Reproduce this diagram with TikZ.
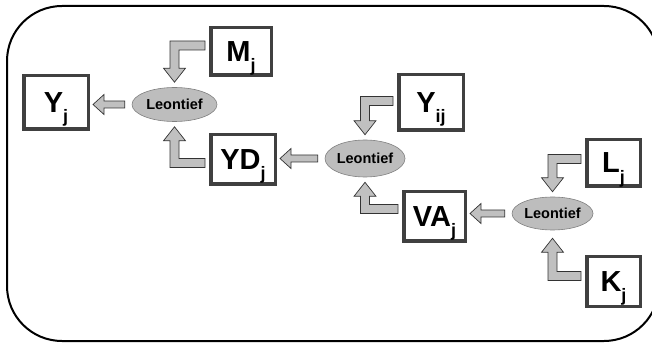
\documentclass[tikz,border=0pt]{standalone}
\usepackage{fontspec}
\setmainfont{Liberation Sans}
\usetikzlibrary{calc,shapes.geometric}

\definecolor{boxgray}{HTML}{404040}
\definecolor{arrowgray}{HTML}{C0C0C0}
\definecolor{leofill}{HTML}{BDBDBD}
\definecolor{leoline}{HTML}{808080}

% variable name with a big lowered index
\newcommand{\varname}[2]{#1\smash{\raisebox{-0.36em}{\fontsize{18}{18}\selectfont #2}}}

% straight block arrow pointing left: tail #1, tip #2
\newcommand{\leftblock}[2]{%
  \filldraw[blockarrow] let \p1=(#1), \p2=(#2) in
    (\x1,\y1+3.5pt) -- (\x2+11pt,\y1+3.5pt) -- (\x2+11pt,\y1+10pt) -- (\x2,\y1)
    -- (\x2+11pt,\y1-10pt) -- (\x2+11pt,\y1-3.5pt) -- (\x1,\y1-3.5pt) -- cycle;}

% bent block arrow: tail #1, tip #2, #3 = 1 going down, -1 going up
\newcommand{\elbowblock}[3]{%
  \filldraw[blockarrow] let \p1=(#1), \p2=(#2) in
    (\x1,{\y1+(#3)*4.5pt}) -- ({\x2-4.5pt},{\y1+(#3)*4.5pt})
    -- ({\x2-4.5pt},{\y2+(#3)*14pt}) -- ({\x2-11pt},{\y2+(#3)*14pt}) -- (\x2,\y2)
    -- ({\x2+11pt},{\y2+(#3)*14pt}) -- ({\x2+4.5pt},{\y2+(#3)*14pt})
    -- ({\x2+4.5pt},{\y1-(#3)*4.5pt}) -- (\x1,{\y1-(#3)*4.5pt}) -- cycle;}

\begin{document}
\begin{tikzpicture}[x=1pt,y=-1pt,
    varbox/.style={draw=boxgray,line width=3.5pt,fill=white,inner sep=0pt,
      font=\fontsize{29}{29}\selectfont\bfseries},
    leontief/.style={ellipse,draw=leoline,line width=0.6pt,fill=leofill,inner sep=0pt,
      font=\fontsize{14.5}{14.5}\selectfont\bfseries},
    blockarrow/.style={draw=black!80,line width=0.7pt,fill=arrowgray,line join=miter}]
    \useasboundingbox (0,0) rectangle (652,344);
    \draw[line width=2pt,rounded corners=55pt] (7,6) rectangle (659,341);

    % boxes
    \node[varbox,minimum width=64.5pt,minimum height=53.5pt] (Yj) at (56,102.5) {\varname{Y}{j}};
    \node[varbox,minimum width=60.5pt,minimum height=47.5pt] (Mj) at (241,51.5) {\varname{M}{j}};
    \node[varbox,minimum width=64.5pt,minimum height=49.5pt] (YDj) at (243,159.5) {\varname{YD}{j}};
    \node[varbox,minimum width=64.5pt,minimum height=55.5pt] (Yij) at (431,102.5) {\varname{Y}{ij}};
    \node[varbox,minimum width=61.5pt,minimum height=49.5pt] (VAj) at (434.5,216.5) {\varname{VA}{j}};
    \node[varbox,minimum width=53.5pt,minimum height=46.5pt] (Lj) at (613.5,163) {\varname{L}{j}};
    \node[varbox,minimum width=53.5pt,minimum height=49.5pt] (Kj) at (613.5,281.5) {\varname{K}{j}};

    % Leontief nests
    \node[leontief,minimum width=85pt,minimum height=34pt] (leoY) at (174.5,104.5) {Leontief};
    \node[leontief,minimum width=80pt,minimum height=37pt] (leoYD) at (365,158.5) {Leontief};
    \node[leontief,minimum width=81pt,minimum height=33pt] (leoVA) at (552.5,213.5) {Leontief};

    % arrows
    \leftblock{[xshift=-7pt]leoY.west}{[xshift=3pt]Yj.east}
    \leftblock{[xshift=-7pt]leoYD.west}{[xshift=3pt]YDj.east}
    \leftblock{[xshift=-7pt]leoVA.west}{[xshift=3pt]VAj.east}
    \elbowblock{[shift={(-4pt,6pt)}]Mj.west}{[yshift=5pt]leoY.north}{1}
    \elbowblock{[shift={(-4pt,-3.5pt)}]YDj.west}{[yshift=-5pt]leoY.south}{-1}
    \elbowblock{[shift={(-4pt,1.5pt)}]Yij.west}{[yshift=5pt]leoYD.north}{1}
    \elbowblock{[shift={(-4pt,7.5pt)}]VAj.west}{[yshift=-5pt]leoYD.south}{-1}
    \elbowblock{[shift={(-4pt,4pt)}]Lj.west}{[yshift=5pt]leoVA.north}{1}
    \elbowblock{[shift={(-4pt,5.5pt)}]Kj.west}{[yshift=-8pt]leoVA.south}{-1}
\end{tikzpicture}
\end{document}
